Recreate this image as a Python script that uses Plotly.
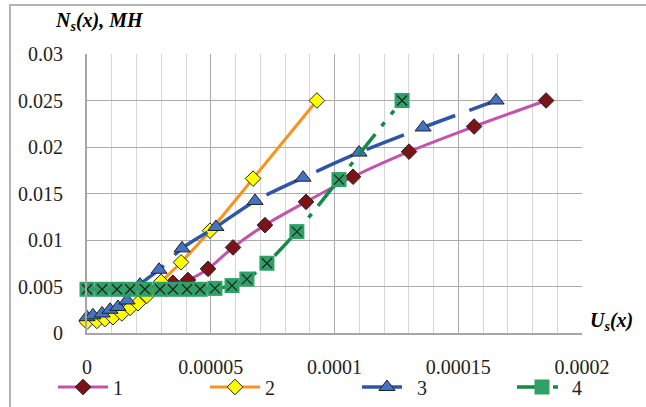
import plotly.graph_objects as go

# ---- data ----
s1_x = [0.0000290, 0.0000347, 0.0000408, 0.0000489, 0.0000590, 0.0000719, 0.0000885, 0.0001075, 0.0001301, 0.0001564, 0.0001855]
s1_y = [0.0049, 0.0054, 0.0057, 0.0069, 0.0092, 0.0116, 0.0141, 0.0168, 0.0195, 0.0222, 0.0250]

s2_x = [0.0, 0.0000040, 0.0000073, 0.0000105, 0.0000141, 0.0000174, 0.0000206, 0.0000242, 0.0000299, 0.0000380, 0.0000497, 0.0000671, 0.0000929]
s2_y = [0.0012, 0.0013, 0.0015, 0.0017, 0.0021, 0.0027, 0.0032, 0.0040, 0.0055, 0.0076, 0.0110, 0.0166, 0.0250]

s3_x = [0.0, 0.0000024, 0.0000061, 0.0000093, 0.0000125, 0.0000162, 0.0000214, 0.0000291, 0.0000384, 0.0000521, 0.0000679, 0.0000873, 0.0001099, 0.0001358, 0.0001653]
s3_y = [0.0017, 0.0019, 0.0021, 0.0025, 0.0028, 0.0035, 0.0052, 0.0068, 0.0091, 0.0114, 0.0142, 0.0167, 0.0194, 0.0221, 0.0250]

s4_x = [0.0, 0.0000061, 0.0000121, 0.0000174, 0.0000234, 0.0000295, 0.0000347, 0.0000404, 0.0000457, 0.0000517, 0.0000586, 0.0000646, 0.0000727, 0.0000848, 0.0001018, 0.0001273]
s4_y = [0.0047, 0.0047, 0.0047, 0.0047, 0.0047, 0.0047, 0.0047, 0.0047, 0.0047, 0.0048, 0.0051, 0.0058, 0.0075, 0.0109, 0.0165, 0.0250]

series_names = ["1", "2", "3", "4"]

x_tickvals = [0, 0.00005, 0.0001, 0.00015, 0.0002]
x_ticktext = ["0", "0.00005", "0.0001", "0.00015", "0.0002"]
y_tickvals = [0, 0.005, 0.01, 0.015, 0.02, 0.025, 0.03]
y_ticktext = ["0", "0.005", "0.01", "0.015", "0.02", "0.025", "0.03"]

y_title = "<b><i>N<sub>s</sub>(x), МН</i></b>"
x_title = "<b><i>U<sub>s</sub>(x)</i></b>"

FONT = "Liberation Serif"

# plot-area pixel geometry
L, R, T, B = 87, 582, 54, 333
W, H = R - L, B - T


def px_x(p):
    return (p - L) / W


def px_y(p):
    return (B - p) / H


fig = go.Figure()

fig.add_trace(go.Scatter(
    x=s1_x, y=s1_y, name=series_names[0], mode="lines+markers", legend="legend",
    line=dict(color="#c154ad", width=3, shape="spline", smoothing=0.8),
    marker=dict(symbol="diamond", size=12, color="#7b1418", line=dict(color="#222", width=1)),
    cliponaxis=False))

fig.add_trace(go.Scatter(
    x=s2_x, y=s2_y, name=series_names[1], mode="lines+markers", legend="legend2",
    line=dict(color="#f7931e", width=3, shape="spline", smoothing=0.8),
    marker=dict(symbol="diamond", size=12, color="#ffff00", line=dict(color="#222", width=1)),
    cliponaxis=False))

fig.add_trace(go.Scatter(
    x=s3_x, y=s3_y, name=series_names[2], mode="lines+markers", legend="legend3",
    line=dict(color="#2f55a8", width=3.5, shape="spline", smoothing=0.8, dash="40px,15px"),
    marker=dict(symbol="triangle-up", size=14, color="#4472c4", line=dict(color="#222", width=1)),
    cliponaxis=False))

fig.add_trace(go.Scatter(
    x=s4_x, y=s4_y, name=series_names[3], mode="lines+markers", legend="legend4", legendgroup="g4",
    line=dict(color="#138a48", width=3.5, shape="spline", smoothing=0.8,
              dash="26px,10px,5px,10px,5px,10px"),
    marker=dict(symbol="square", size=15, color="#2fa066", line=dict(width=0)),
    cliponaxis=False))

fig.add_trace(go.Scatter(
    x=s4_x, y=s4_y, name=series_names[3], mode="markers", legendgroup="g4", showlegend=False,
    marker=dict(symbol="x-thin", size=10, color="#222", line=dict(color="#222", width=1.2)),
    cliponaxis=False))

leg_common = dict(orientation="h", xanchor="left", yanchor="middle", y=px_y(387),
                  font=dict(family=FONT, size=20, color="#222"), bgcolor="rgba(0,0,0,0)",
                  borderwidth=0, itemwidth=50)

fig.update_layout(
    width=646, height=407,
    margin=dict(l=L, r=646 - R, t=T, b=407 - B, autoexpand=False),
    paper_bgcolor="white", plot_bgcolor="white",
    font=dict(family=FONT, size=18, color="#222"),
    showlegend=True,
    legend=dict(leg_common, x=px_x(53)),
    legend2=dict(leg_common, x=px_x(205)),
    legend3=dict(leg_common, x=px_x(357)),
    legend4=dict(leg_common, x=px_x(512)),
    xaxis=dict(range=[0, 0.0002], tickmode="array", tickvals=x_tickvals, ticktext=x_ticktext,
               showgrid=True, gridcolor="#ababab", gridwidth=1,
               minor=dict(dtick=0.00001, tick0=0, showgrid=True, gridcolor="#d6d6d6", gridwidth=1),
               showline=True, linecolor="#a6a6a6", linewidth=2, zeroline=False,
               ticks="", ticklabelstandoff=15, automargin=False,
               tickfont=dict(family=FONT, size=20, color="#222")),
    yaxis=dict(range=[0, 0.03], tickmode="array", tickvals=y_tickvals, ticktext=y_ticktext,
               showgrid=True, gridcolor="#ababab", gridwidth=1,
               showline=True, linecolor="#a6a6a6", linewidth=2, zeroline=False,
               ticks="", ticklabelstandoff=18, automargin=False,
               tickfont=dict(family=FONT, size=20, color="#222")),
    annotations=[
        dict(text=y_title, xref="paper", yref="paper", x=px_x(53), y=px_y(21),
             xanchor="left", yanchor="middle", showarrow=False,
             font=dict(family=FONT, size=20, color="black")),
        dict(text=x_title, xref="paper", yref="paper", x=px_x(588), y=px_y(321),
             xanchor="left", yanchor="middle", showarrow=False,
             font=dict(family=FONT, size=20, color="black")),
    ],
    shapes=[
        dict(type="rect", xref="paper", yref="paper",
             x0=px_x(10), x1=px_x(660), y0=px_y(420), y1=px_y(5),
             line=dict(color="#b3b3b3", width=2), fillcolor="rgba(0,0,0,0)", layer="below"),
    ],
)

fig.write_html("out.html", config={"displayModeBar": False},
               post_script="document.body.style.margin='0';document.body.style.overflow='hidden';")
